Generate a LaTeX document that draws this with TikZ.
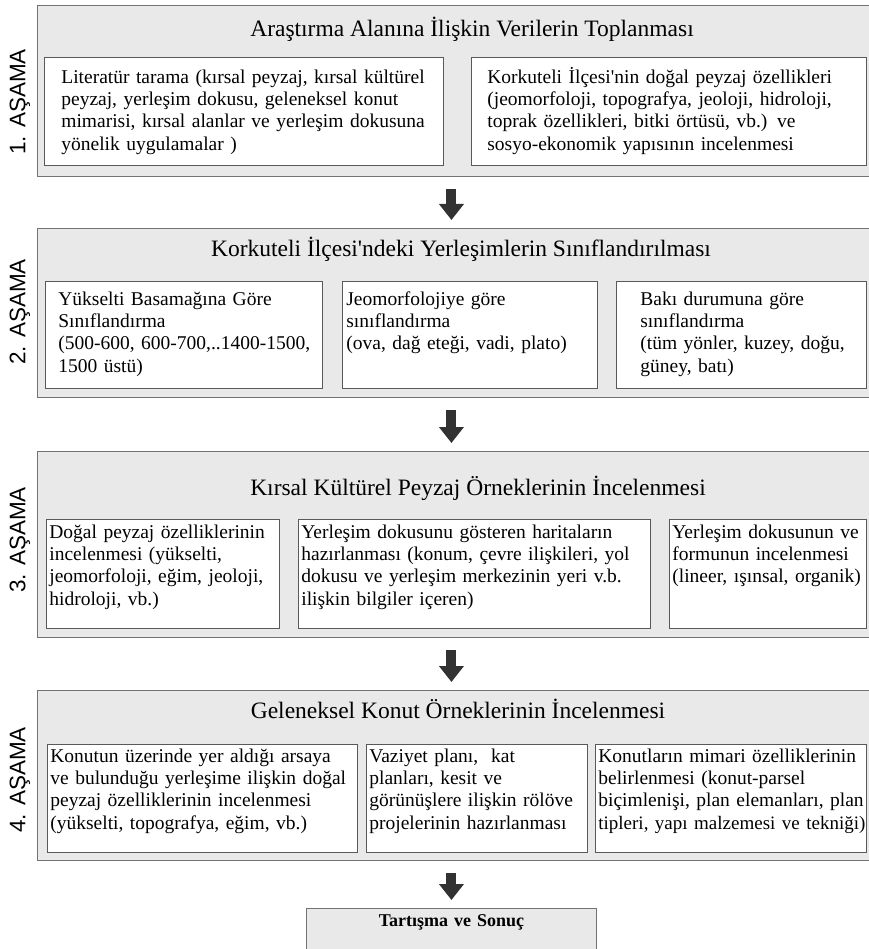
\documentclass[tikz,border=0pt]{standalone}
\usepackage{fontspec}
\setmainfont{Liberation Serif}
\newfontfamily\labelfont{Liberation Sans}
\usetikzlibrary{arrows.meta, positioning}
\definecolor{stagegray}{RGB}{233, 233, 234}
\definecolor{arrowgray}{RGB}{50, 50, 50}

\begin{document}
\begin{tikzpicture}[x=1pt, y=-1pt,
  stagebox/.style={draw=black!55, line width=0.9pt, fill=stagegray, anchor=north west, inner sep=0pt},
  cellbox/.style={draw=black!65, line width=0.7pt, fill=white, anchor=north west, align=left, inner ysep=0pt, inner xsep=3pt, font=\fontsize{19.5}{22.3}\selectfont},
  stagetitle/.style={anchor=base, font=\fontsize{23.5}{26}\selectfont},
  stagelabel/.style={rotate=90, font=\labelfont\fontsize{22.5}{24}\selectfont},
  flowarrow/.style={draw=arrowgray, line width=10pt, -{Triangle[width=24pt, length=16pt]}, shorten <=12pt, shorten >=8pt}
]
\useasboundingbox (0,0) rectangle (868,949);

% 1. asama
\node[stagebox, minimum width=843pt, minimum height=171pt] (s1) at (37,5) {};
\node[stagelabel] (l1) at (20,102) {1. AŞAMA};
\node[stagetitle] (t1) at (472,37) {Araştırma Alanına İlişkin Verilerin Toplanması};
\node[cellbox, inner xsep=17pt, text width=365pt, text height=26pt, text depth=82pt] (s1a) at (44,57)
  {\mbox{Literatür tarama (kırsal peyzaj, kırsal kültürel}\\ peyzaj, yerleşim dokusu, geleneksel konut\\ \mbox{mimarisi, kırsal alanlar ve yerleşim dokusuna}\\ yönelik uygulamalar )};
\node[cellbox, inner xsep=16pt, text width=363pt, text height=26pt, text depth=82pt] (s1b) at (471,57)
  {Korkuteli İlçesi\textquotesingle nin doğal peyzaj özellikleri\\ (jeomorfoloji, topografya, jeoloji, hidroloji,\\ toprak özellikleri, bitki örtüsü, vb.) ve\\ sosyo-ekonomik yapısının incelenmesi};

% 2. asama
\node[stagebox, minimum width=843pt, minimum height=169pt] (s2) at (37,228) {};
\node[stagelabel] (l2) at (20,312) {2. AŞAMA};
\node[stagetitle] (t2) at (461,257) {Korkuteli İlçesi\textquotesingle ndeki Yerleşimlerin Sınıflandırılması};
\node[cellbox, inner xsep=13pt, text width=251pt, text height=24pt, text depth=83pt] (s2a) at (45,281)
  {Yükselti Basamağına Göre\\ Sınıflandırma\\ \mbox{(500-600, 600-700,..1400-1500,}\\ 1500 üstü)};
\node[cellbox, inner xsep=4pt, text width=247pt, text height=24pt, text depth=83pt] (s2b) at (342,281)
  {Jeomorfolojiye göre\\ sınıflandırma\\ (ova, dağ eteği, vadi, plato)};
\node[cellbox, inner xsep=24pt, text width=202pt, text height=24pt, text depth=83pt] (s2c) at (616,281)
  {Bakı durumuna göre\\ sınıflandırma\\ \mbox{(tüm yönler, kuzey, doğu,}\\ güney, batı)};

% 3. asama
\node[stagebox, minimum width=843pt, minimum height=186pt] (s3) at (37,451) {};
\node[stagelabel] (l3) at (20,540) {3. AŞAMA};
\node[stagetitle] (t3) at (478,495) {Kırsal Kültürel Peyzaj Örneklerinin İncelenmesi};
\node[cellbox, text width=227pt, text height=19pt, text depth=90pt] (s3a) at (46,519)
  {Doğal peyzaj özelliklerinin\\ incelenmesi (yükselti,\\ jeomorfoloji, eğim, jeoloji,\\ hidroloji, vb.)};
\node[cellbox, text width=346pt, text height=19pt, text depth=90pt] (s3b) at (298,519)
  {Yerleşim dokusunu gösteren haritaların\\ hazırlanması (konum, çevre ilişkileri, yol\\ dokusu ve yerleşim merkezinin yeri v.b.\\ ilişkin bilgiler içeren)};
\node[cellbox, text width=191pt, text height=19pt, text depth=90pt] (s3c) at (669,519)
  {Yerleşim dokusunun ve\\ formunun incelenmesi\\ \mbox{(lineer, ışınsal, organik)}};

% 4. asama
\node[stagebox, minimum width=843pt, minimum height=170pt] (s4) at (37,690) {};
\node[stagelabel] (l4) at (20,780) {4. AŞAMA};
\node[stagetitle] (t4) at (458,718) {Geleneksel Konut Örneklerinin İncelenmesi};
\node[cellbox, text width=304pt, text height=18pt, text depth=90pt] (s4a) at (47,744)
  {Konutun üzerinde yer aldığı arsaya\\ \mbox{ve bulunduğu yerleşime ilişkin doğal}\\ peyzaj özelliklerinin incelenmesi\\ (yükselti, topografya, eğim, vb.)};
\node[cellbox, text width=215pt, text height=18pt, text depth=90pt] (s4b) at (366,744)
  {Vaziyet planı,\ \ kat\\ planları, kesit ve\\ görünüşlere ilişkin rölöve\\ projelerinin hazırlanması};
\node[cellbox, text width=265pt, text height=18pt, text depth=90pt] (s4c) at (595,744)
  {Konutların mimari özelliklerinin\\ belirlenmesi (konut-parsel\\ \mbox{biçimlenişi, plan elemanları, plan}\\ \mbox{\fontsize{19}{22.3}\selectfont tipleri, yapı malzemesi ve tekniği)}};

% sonuc
\node[stagebox, inner xsep=3pt, text width=284pt, align=center, text height=18pt, text depth=40pt, font=\bfseries\fontsize{18}{20}\selectfont] (end) at (306,908) {Tartışma ve Sonuç};

% oklar
\draw[flowarrow] (s1.south -| end.north) -- (s2.north -| end.north);
\draw[flowarrow] (s2.south -| end.north) -- (s3.north -| end.north);
\draw[flowarrow] (s3.south -| end.north) -- (s4.north -| end.north);
\draw[flowarrow] (s4.south -| end.north) -- (end.north);
\end{tikzpicture}
\end{document}
